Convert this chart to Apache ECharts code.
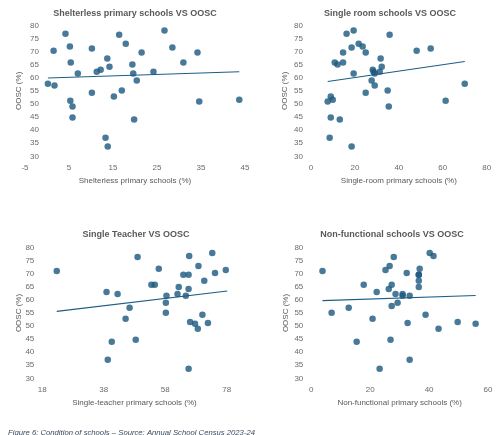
<!DOCTYPE html>
<html>
<head>
<meta charset="utf-8">
<script src="https://cdn.jsdelivr.net/npm/echarts@6/dist/echarts.min.js"></script>
<style>
html,body{margin:0;padding:0;background:#fff;}
#c{width:497px;height:435px;}
</style>
</head>
<body>
<div id="c"></div>
<script>
// OOSC (%) per district, shared y values for all panels
const oosc = [78.0,76.8,76.4,73.0,71.9,71.5,71.1,70.3,69.6,69.6,67.3,65.8,65.8,65.0,64.2,63.0,62.3,62.3,61.6,61.6,58.9,57.7,57.0,55.1,54.3,52.8,51.6,51.2,50.9,49.0,44.8,44.0,37.1,33.7];
const shelterless = [26.7,4.2,16.4,17.9,5.2,28.5,10.2,1.5,21.5,34.2,13.7,5.4,31.0,19.4,14.2,12.2,11.3,24.2,7.0,19.6,20.4,0.2,1.7,17.0,10.2,15.2,43.7,5.3,34.6,5.8,5.8,19.8,13.3,13.8];
const singleRoom = [19.4,16.2,35.8,21.7,23.5,18.5,54.5,48.1,14.6,24.9,31.7,10.8,14.6,12.1,32.2,28.1,28.5,31.3,29.0,19.4,27.6,70.0,29.0,34.9,24.9,9.0,9.9,61.3,7.6,35.4,9.0,13.1,8.5,18.5];
const singleTeacher = [73.3,65.8,49.0,68.8,55.9,77.7,22.7,74.2,63.9,65.6,70.7,53.5,54.6,62.4,65.6,38.9,42.5,62.0,58.4,64.7,58.2,78.2,46.4,58.2,70.1,45.1,66.1,71.9,67.7,68.6,48.4,40.6,39.3,65.6];
const nonFunctional = [40.2,41.5,28.0,26.6,36.8,25.2,3.8,32.4,36.5,36.5,36.5,17.8,27.3,36.5,26.3,22.2,28.6,31.0,31.0,33.4,29.3,27.3,12.7,6.9,38.8,20.8,49.7,32.7,55.8,43.2,26.9,15.4,33.4,23.2];

const titles = ["Shelterless primary schools VS OOSC","Single room schools VS OOSC","Single Teacher VS OOSC","Non-functional schools VS OOSC"];
const xNames = ["Shelterless primary schools (%)","Single-room primary schools (%)","Single-teacher primary schools (%)","Non-functional primary schools (%)"];
const xTicks = [[-5,5,15,25,35,45],[0,20,40,60,80],[18,38,58,78],[0,20,40,60]];
const yTicks = [30,35,40,45,50,55,60,65,70,75,80];
const caption = "Figure 6: Condition of schools \u2013 Source: Annual School Census 2023-24";

const panels = [shelterless, singleRoom, singleTeacher, nonFunctional];

function regression(xs, ys){
  const n = xs.length;
  let sx=0, sy=0, sxx=0, sxy=0;
  for(let i=0;i<n;i++){sx+=xs[i];sy+=ys[i];sxx+=xs[i]*xs[i];sxy+=xs[i]*ys[i];}
  const b = (n*sxy - sx*sy)/(n*sxx - sx*sx);
  const a = (sy - b*sx)/n;
  const lo = Math.min(...xs), hi = Math.max(...xs);
  return [[lo, a+b*lo],[hi, a+b*hi]];
}

const layout = [
  {grid:{left:25,top:25.3,width:220,height:131}, title:[130,4], nameGap:24, yOffset:-22},
  {grid:{left:311,top:25.3,width:175.7,height:131}, title:[385,4], nameGap:22, yOffset:0},
  {grid:{left:42.3,top:247.7,width:184.4,height:130.6}, title:[131,225.5], nameGap:20, yOffset:0},
  {grid:{left:311.3,top:247.7,width:176.7,height:130.6}, title:[387,225.5], nameGap:22, yOffset:0}
];

const FONT = "Liberation Sans";
const markColor = "#1a587e";

const option = {
  backgroundColor:"#fff",
  animation:false,
  title: layout.map((l,i)=>({
    text: titles[i], left: l.title[0], top: l.title[1], textAlign:"center",
    textStyle:{fontFamily:FONT, fontSize:9, fontWeight:"bold", color:"#595959"}
  })).concat([{
    text: caption, left: 3, top: 424,
    textStyle:{fontFamily:FONT, fontSize:7.7, fontStyle:"italic", fontWeight:"normal", color:"#3b4a5c"}
  }]),
  grid: layout.map(l=>Object.assign({outerBoundsMode:"none", containLabel:false}, l.grid)),
  xAxis: layout.map((l,i)=>{
    const t = xTicks[i];
    return {
      type:"value", gridIndex:i, min:t[0], max:t[t.length-1],
      name: xNames[i], nameLocation:"middle", nameGap:20, nameMoveOverlap:false,
      nameTextStyle:{fontFamily:FONT, fontSize:8, color:"#595959"},
      axisLine:{show:false, onZero:false}, axisTick:{show:false}, splitLine:{show:false},
      axisLabel:{customValues:t, fontFamily:FONT, fontSize:8, color:"#6b6b6b", margin:7, showMinLabel:true, showMaxLabel:true}
    };
  }),
  yAxis: layout.map((l,i)=>({
    type:"value", gridIndex:i, min:yTicks[0], max:yTicks[yTicks.length-1], interval:5,
    offset:l.yOffset,
    name:"OOSC (%)", nameLocation:"middle", nameGap:l.nameGap, nameMoveOverlap:false,
    nameTextStyle:{fontFamily:FONT, fontSize:8, color:"#595959"},
    axisLine:{show:false, onZero:false}, axisTick:{show:false}, splitLine:{show:false},
    axisLabel:{fontFamily:FONT, fontSize:8, color:"#6b6b6b", margin:8}
  })),
  series: []
};

panels.forEach((xs,i)=>{
  option.series.push({
    type:"scatter", xAxisIndex:i, yAxisIndex:i,
    data: xs.map((x,k)=>[x, oosc[k]]),
    symbolSize:6.5, itemStyle:{color:markColor}
  });
  option.series.push({
    type:"line", xAxisIndex:i, yAxisIndex:i,
    data: regression(xs, oosc), symbol:"none",
    lineStyle:{color:"#1d5d84", width:1.1}, z:1
  });
});

const chart = echarts.init(document.getElementById("c"), null, {renderer:"canvas"});
chart.setOption(option);
</script>
</body>
</html>
